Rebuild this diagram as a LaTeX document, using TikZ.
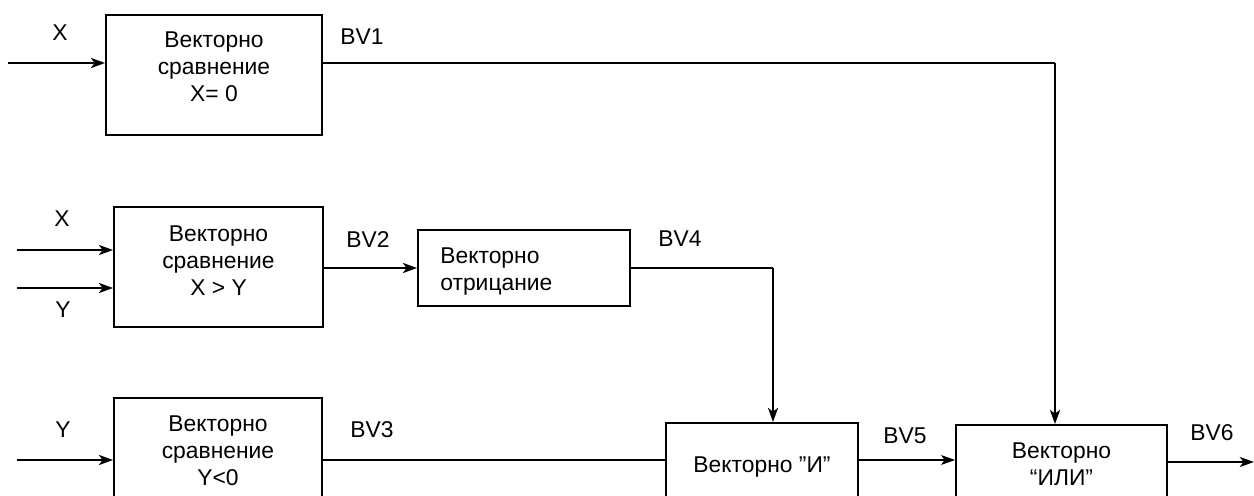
\documentclass[tikz,border=0pt]{standalone}
\usepackage{fontspec}
\setmainfont{Liberation Sans}
\usetikzlibrary{arrows.meta}
\tikzset{
  block/.style={draw, line width=1pt, rectangle, inner sep=0pt},
  sig/.style={line width=1.5pt},
  sigthin/.style={line width=0.9pt},
  arr/.style={-{Stealth[length=8pt,width=5.6pt,inset=2pt]}},
  lbl/.style={inner sep=0pt, font=\fontsize{13}{15.3}\selectfont},
  txt/.style={inner sep=0pt, align=center, font=\fontsize{13}{15.3}\selectfont}
}
\begin{document}
\begin{tikzpicture}[x=0.02cm, y=-0.02cm]
\useasboundingbox (0,0) rectangle (1254,496);
\clip (0,0) rectangle (1254,496);

% blocks
\node[block, minimum width=4.32cm, minimum height=2.4cm] (cmp1) at (214,75) {};
\node[block, minimum width=4.18cm, minimum height=2.4cm] (cmp2) at (218.5,267) {};
\node[block, minimum width=4.16cm, minimum height=2.4cm] (cmp3) at (218,458) {};
\node[block, minimum width=4.24cm, minimum height=1.52cm] (neg4) at (524,268) {};
\node[block, minimum width=3.84cm, minimum height=2cm] (and5) at (762,473) {};
\node[block, minimum width=4.22cm, minimum height=2cm] (or6) at (1061.5,475) {};

% block texts
\node[txt] (cmp1t) at (214,67) {Векторно\\сравнение\\X= 0};
\node[txt] (cmp2t) at (218.5,260.5) {Векторно\\сравнение\\X > Y};
\node[txt] (cmp3t) at (218,451) {Векторно\\сравнение\\Y<0};
\node[txt, align=left, anchor=west] (neg4t) at (440,271.5) {Векторно\\отрицание};
\node[lbl, anchor=base] (and5t) at (762,472) {Векторно ”И”};
\node[txt] (or6t) at (1061.5,464) {Векторно\\“ИЛИ”};

% signal labels
\node[lbl] (lx1) at (60,33) {X};
\node[lbl] (lx2) at (62,219) {X};
\node[lbl] (ly2) at (63,310) {Y};
\node[lbl] (ly3) at (63,430) {Y};
\node[lbl] (lbv1) at (362,37) {BV1};
\node[lbl] (lbv2) at (368,240) {BV2};
\node[lbl] (lbv3) at (372,430) {BV3};
\node[lbl] (lbv4) at (680,239) {BV4};
\node[lbl] (lbv5) at (905,436) {BV5};
\node[lbl] (lbv6) at (1212,433) {BV6};

% connectors
\coordinate (inA) at (8,63);
\draw[sig, arr] (inA) -- (inA -| cmp1.west);
\coordinate (bv1c) at (1055,63);
\draw[sigthin] (cmp1.east |- bv1c) -- (bv1c);
\draw[sig, arr] (bv1c) -- (bv1c |- or6.north);

\coordinate (inB) at (17,250);
\coordinate (inC) at (17,288);
\draw[sig, arr] (inB) -- (inB -| cmp2.west);
\draw[sig, arr] (inC) -- (inC -| cmp2.west);
\draw[sig, arr] (cmp2.east |- neg4.west) -- (neg4.west);
\coordinate (bv4c) at (773,268);
\draw[sigthin] (neg4.east) -- (bv4c);
\draw[sig, arr] (bv4c) -- (bv4c |- and5.north);

\coordinate (inD) at (17,460);
\draw[sig, arr] (inD) -- (inD -| cmp3.west);
\draw[sig] (cmp3.east |- inD) -- (and5.west |- inD);
\draw[sigthin, arr] (and5.east |- inD) -- (or6.west |- inD);
\coordinate (outE) at (1254,462);
\draw[sig, arr] (or6.east |- outE) -- (outE);
\end{tikzpicture}
\end{document}
